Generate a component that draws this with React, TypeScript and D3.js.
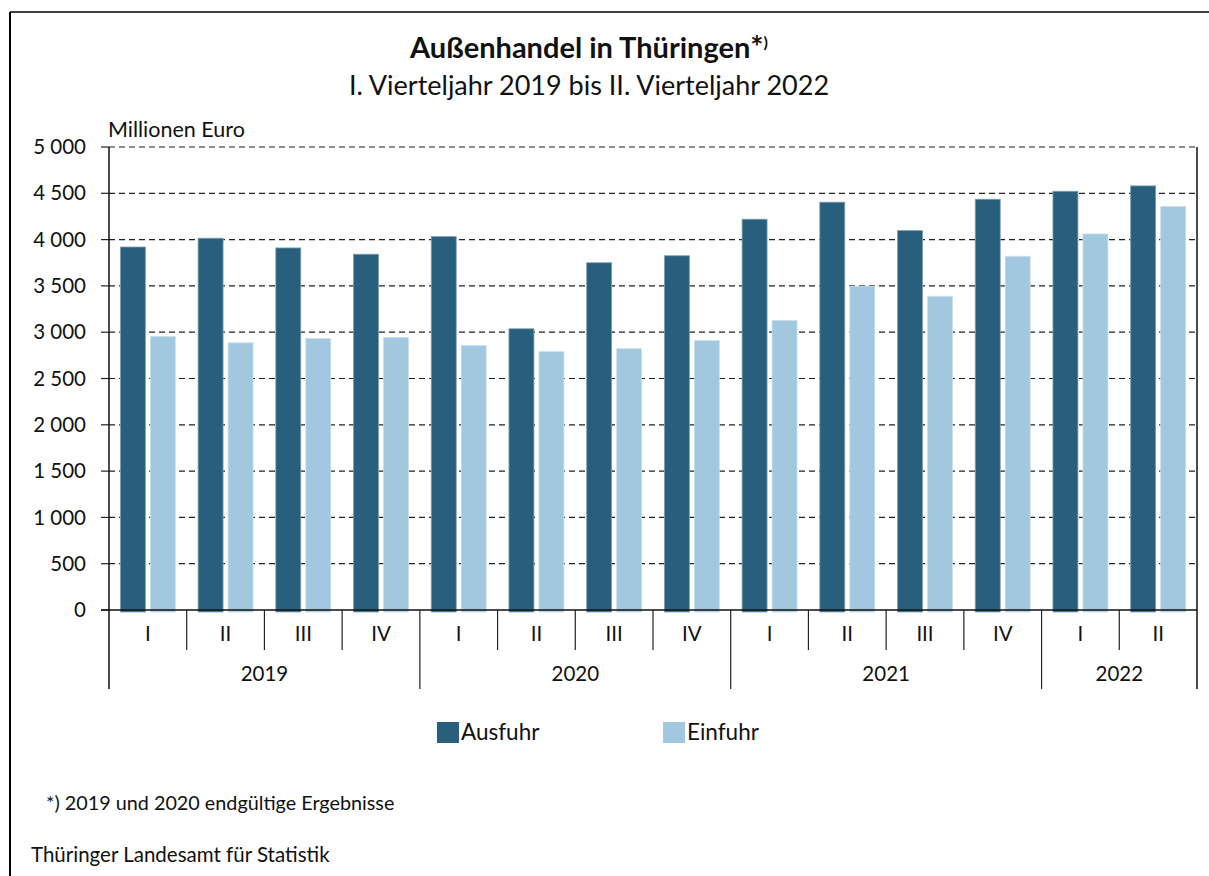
import React from 'react';
import * as d3 from 'd3';

const years = ['2019', '2020', '2021', '2022'];
const quarters = ['I', 'II', 'III', 'IV', 'I', 'II', 'III', 'IV', 'I', 'II', 'III', 'IV', 'I', 'II'];
const quarterYear = ['2019', '2019', '2019', '2019', '2020', '2020', '2020', '2020', '2021', '2021', '2021', '2021', '2022', '2022'];
const ausfuhr = [3920, 4015, 3910, 3842, 4032, 3037, 3750, 3826, 4220, 4404, 4097, 4436, 4522, 4580];
const einfuhr = [2954, 2885, 2932, 2943, 2856, 2790, 2822, 2910, 3126, 3497, 3388, 3820, 4061, 4359];
const series = ['Ausfuhr', 'Einfuhr'];
const yTicks = [0, 500, 1000, 1500, 2000, 2500, 3000, 3500, 4000, 4500, 5000];

const colors = { Ausfuhr: '#285f7c', Einfuhr: '#a2c8e0' };
const FONT = "Lato, 'Source Sans Pro', 'Noto Sans', sans-serif";

const width = 1209;
const height = 876;
const left = 109;
const right = 1197;
const top = 147;
const bottom = 610;

export default function App() {
  const keys = quarters.map((q, i) => quarterYear[i] + '-' + q);
  const x = d3.scaleBand().domain(keys).range([left, right]).padding(0);
  const x1 = d3.scaleBand().domain(series).range([0, x.bandwidth()]).paddingInner(0.167).paddingOuter(0.38);
  const y = d3.scaleLinear().domain([0, 5000]).range([bottom, top]);
  const fmt = d3.formatLocale({ decimal: ',', thousands: ' ', grouping: [3], currency: ['', ' €'] }).format(',d');

  // year blocks: first and last quarter index
  const yearSpans = years.map(yr => {
    const idx = quarterYear.map((v, i) => (v === yr ? i : -1)).filter(i => i >= 0);
    return { yr, start: idx[0], end: idx[idx.length - 1] };
  });
  const yearStarts = yearSpans.map(s => s.start);

  return (
    <svg width={width} height={height} style={{ position: 'absolute', left: 0, top: 0, background: '#fff' }} fontFamily={FONT}>
      {/* frame */}
      <line x1={10} y1={12} x2={width} y2={12} stroke="#000" strokeWidth={1.5} />
      <line x1={10} y1={12} x2={10} y2={height} stroke="#000" strokeWidth={2} />

      <text x={589} y={58} textAnchor="middle" fontSize={29} fontWeight="bold" fill="#111">
        Außenhandel in Thüringen<tspan fontSize={31}>*</tspan>
        <tspan fontSize={16} dy={-10}>)</tspan>
      </text>
      <text x={589} y={95} textAnchor="middle" fontSize={27} fill="#111">
        I. Vierteljahr 2019 bis II. Vierteljahr 2022
      </text>

      <text x={108} y={137} fontSize={21.5} fill="#111">Millionen Euro</text>

      {/* grid and y ticks */}
      {yTicks.map(t => (
        <g key={t}>
          {t > 0 && (
            <line x1={left} x2={right} y1={y(t)} y2={y(t)} stroke="#222" strokeWidth={1.2} strokeDasharray="6,4" />
          )}
          <line x1={left - 8} x2={left} y1={y(t)} y2={y(t)} stroke="#222" strokeWidth={1.2} />
          <text x={86} y={y(t)} dy="0.35em" textAnchor="end" fontSize={20.5} fill="#111">
            {fmt(t)}
          </text>
        </g>
      ))}

      {/* bars */}
      {keys.map((k, i) => (
        <g key={k} transform={`translate(${x(k)},0)`}>
          {series.map(s => {
            const v = s === 'Ausfuhr' ? ausfuhr[i] : einfuhr[i];
            return (
              <rect
                key={s}
                x={x1(s)}
                y={y(v)}
                width={x1.bandwidth()}
                height={y(0) - y(v) + 2}
                fill={colors[s]}
                stroke={s === 'Ausfuhr' ? '#7f9fb2' : '#c9dfec'}
                strokeWidth={0.8}
              />
            );
          })}
        </g>
      ))}

      {/* axes */}
      <line x1={left - 8} x2={right} y1={bottom} y2={bottom} stroke="#111" strokeWidth={1.5} />
      <line x1={left} x2={left} y1={top} y2={689} stroke="#111" strokeWidth={1.5} />
      <line x1={right} x2={right} y1={top} y2={689} stroke="#111" strokeWidth={1.5} />

      {keys.map((k, i) =>
        i > 0 && !yearStarts.includes(i) ? (
          <line key={'q' + k} x1={x(k)} x2={x(k)} y1={bottom} y2={650} stroke="#222" strokeWidth={1.2} />
        ) : null
      )}
      {yearStarts.map(i =>
        i > 0 ? <line key={'y' + i} x1={x(keys[i])} x2={x(keys[i])} y1={bottom} y2={689} stroke="#222" strokeWidth={1.2} /> : null
      )}

      {keys.map((k, i) => (
        <text key={'ql' + k} x={x(k) + x.bandwidth() / 2} y={641} textAnchor="middle" fontSize={20.5} fill="#111">
          {quarters[i]}
        </text>
      ))}
      {yearSpans.map(s => {
        const x0 = x(keys[s.start]);
        const xe = x(keys[s.end]) + x.bandwidth();
        return (
          <text key={s.yr} x={(x0 + xe) / 2} y={681} textAnchor="middle" fontSize={20.5} fill="#111">
            {s.yr}
          </text>
        );
      })}

      {/* legend */}
      {series.map((s, i) => (
        <g key={s} transform={`translate(${437 + i * 226},722)`}>
          <rect width={22} height={21} fill={colors[s]} />
          <text x={24} y={18} fontSize={22.5} fill="#111">{s}</text>
        </g>
      ))}

      <text x={46} y={810} fontSize={19.8} fill="#111">*) 2019 und 2020 endgültige Ergebnisse</text>
      <text x={31} y={862} fontSize={20.5} fill="#111">Thüringer Landesamt für Statistik</text>
    </svg>
  );
}
